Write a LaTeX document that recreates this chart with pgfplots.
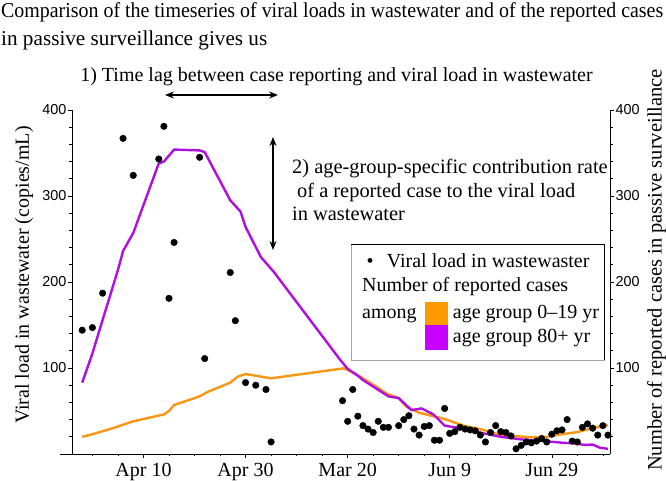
\documentclass[border=0pt]{standalone}
\usepackage{fontspec}
\setmainfont{Liberation Serif}
\newfontfamily\arialfont{Liberation Sans}
\usepackage{graphicx}
\usepackage{pgfplots}
\usepackage{pgfplotstable}
\pgfplotsset{compat=1.18}
\usetikzlibrary{arrows.meta}
\definecolor{lineorange}{RGB}{250,150,20}
\definecolor{linepurple}{RGB}{175,15,225}
\definecolor{legorange}{RGB}{255,153,0}
\definecolor{legpurple}{RGB}{200,0,255}

\pgfplotstableread{
d v
-2 144
0 147
2 187
6 367
8 324
13 343
14 381
15 181
16 246
21 345
22 111
27 211
28 155
30 83
32 80
34 75
35 14
49 62
50 38
51 75
52 44
53 33
54 29
55 25
56 38
57 31
58 31
60 33
61 40
62 44.5
63 29
64 22
65 32
66 33
67 16
68 16
69 53
70 24
71 26
72 31
73 29
74 28
75 27
76 22
77 14
78 25
79 33
80 26
81 25
82 21
83 6
84 10
85 14
86 13
87 15
88 18
89 14
90 23
91 27
92 28
93 40
94 15
95 14
96 31
97 35
98 30
99 22
100 33
101 22
}\viral

\pgfplotstableread{
d v
-2 83
0 117
2 156
5 214
6 236
8 257
13 338
14 340
16 354
21 353
22 351
27 295
29 282
30 264
33 229
35.5 212
48.6 109
50 99
52 91
53 86
58 67
60 65
62.5 51
64.5 53
66.8 46
69 33
73 29
76.6 24
80 20
84 17
88.5 15
92.2 13
94.2 12.5
96.5 10.5
98 11
99.4 7.3
101 6
}\oldage

\pgfplotstableread{
d v
-2 20
0 23
4 30
8 38
14 46
15 50
16 57
21 67
22.5 72
27 83
28.5 90
30 93
35 88
49.2 99.6
50.5 96.5
53 88
55.7 78
57.7 70
60 65
61.5 55
64 48
68.8 41
72.7 33
76.6 28
80 22
86 19.4
89 20
92 23
95 25.5
98 30
101 33.5
}\young

\pgfplotsset{
 common/.style={
   scale only axis, width=538pt, height=344pt,
   at={(72pt,27pt)}, anchor=south west,
   xmin=-4, xmax=101.4, ymin=0, ymax=400,
   tick align=outside,
   major tick length=4pt, minor tick length=2.5pt,
   every tick/.style={black, line width=0.6pt},
   axis line style={line width=0.8pt},
   /pgf/number format/assume math mode=true,
   yticklabel style={font=\arialfont\fontsize{14.4}{16}\selectfont, inner sep=1.5pt},
   xticklabel style={font=\fontsize{20}{24}\selectfont, yshift=-1.5pt},
   ytick={100,200,300,400},
   minor ytick={20,40,60,80,120,140,160,180,220,240,260,280,320,340,360,380},
 }
}

\begin{document}
\begin{tikzpicture}[x=1pt,y=1pt]

% right axis: reported cases
\begin{axis}[common, axis y line*=right, axis x line=none,
  xtick=\empty,
  ylabel={Number of reported cases in passive surveillance},
  every axis y label/.style={at={(axis description cs:1.0864,0.535)}, rotate=90, anchor=center, font=\fontsize{20.5}{24}\selectfont}]
\addplot[lineorange, line width=2.4pt, line join=round] table[x=d,y=v]{\young};
\addplot[linepurple, line width=2.4pt, line join=round] table[x=d,y=v]{\oldage};
\end{axis}

% left axis: viral load
\begin{axis}[common, axis y line*=left, axis x line*=bottom, clip=false,
  xtick={10,30,50,70,90}, xticklabels={Apr 10,Apr 30,Mar 20,Jun 9,Jun 29},
  minor xtick={0,5,15,20,25,35,40,45,55,60,65,75,80,85,95,100},
  ylabel={Viral load in wastewater (copies/mL)},
  every axis y label/.style={at={(axis description cs:-0.089,0.52)}, rotate=90, anchor=center, font=\fontsize{20}{24}\selectfont}]
\addplot[only marks, mark=*, mark size=3.3pt, black] table[x=d,y=v]{\viral};
\draw[line width=0.8pt] (axis cs:-6.3,0) -- (axis cs:-4,0);
\end{axis}

% title
\begin{scope}[every node/.style={inner sep=0pt}]
\node[anchor=base west, font=\fontsize{21.2}{25}\selectfont] at (1,463) {\resizebox{662pt}{\height}{Comparison of the timeseries of viral loads in wastewater and of the reported cases}};
\node[anchor=base west, font=\fontsize{21.2}{25}\selectfont] at (1,435) {in passive surveillance gives us};
\node[anchor=base, font=\fontsize{20}{24}\selectfont] at (336.5,399) {1) Time lag between case reporting and viral load in wastewater};
\node[anchor=base west, font=\fontsize{20.4}{24}\selectfont] at (292,307) {2) age-group-specific contribution rate};
\node[anchor=base west, font=\fontsize{20.4}{24}\selectfont] at (297,283) {of a reported case to the viral load};
\node[anchor=base west, font=\fontsize{20.4}{24}\selectfont] at (292,260) {in wastewater};
\end{scope}

\draw[<->, >={Stealth[length=9pt, width=7pt]}, line width=1.3pt] (165,386) -- (278,386);
\draw[<->, >={Stealth[length=9pt, width=7pt]}, line width=1.3pt] (273,344) -- (273,231);

% legend
\fill[white] (351,121) rectangle (604,237);
\draw[gray!70, line width=0.8pt] (351,121) rectangle (604,237);
\draw[black, line width=0.8pt] (351,237) -- (604,237) -- (604,121);
\fill[legorange] (425,156) rectangle (448,179);
\fill[legpurple] (425,131) rectangle (448,156);
\begin{scope}[every node/.style={inner sep=0pt, font=\fontsize{20}{24}\selectfont}]
\node[anchor=base] at (370,213) {\textbullet};
\node[anchor=base west] at (386.7,213) {Viral load in wastewaster};
\node[anchor=base west] at (362,189) {Number of reported cases};
\node[anchor=base west] at (362,162) {among};
\node[anchor=base west] at (452.7,162) {age group 0–19 yr};
\node[anchor=base west] at (452.7,138) {age group 80+ yr};
\end{scope}

\pgfresetboundingbox
\useasboundingbox (0,0) rectangle (666,481);
\end{tikzpicture}
\end{document}
